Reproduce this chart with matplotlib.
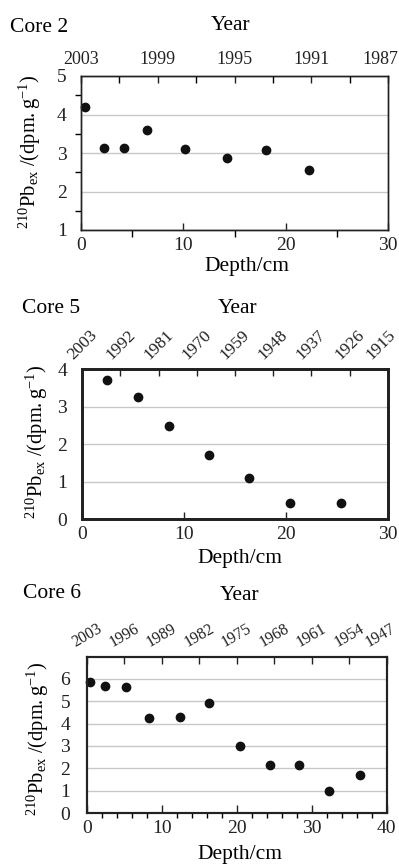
import matplotlib
matplotlib.use('Agg')
import numpy as np
import matplotlib.pyplot as plt
from matplotlib.ticker import MultipleLocator, FixedLocator
from matplotlib.transforms import ScaledTranslation

plt.rcParams['font.family'] = ['Liberation Serif', 'DejaVu Serif']
plt.rcParams['mathtext.fontset'] = 'custom'
plt.rcParams['mathtext.rm'] = 'Liberation Serif'
plt.rcParams['mathtext.it'] = 'Liberation Serif:italic'

# ---- data ----
core2_depth = [0.4, 2.3, 4.2, 6.5, 10.2, 14.3, 18.1, 22.3]
core2_pb = [4.19, 3.12, 3.12, 3.60, 3.10, 2.86, 3.07, 2.57]
core2_years = ['2003', '1999', '1995', '1991', '1987']

core5_depth = [2.4, 5.5, 8.5, 12.45, 16.4, 20.4, 25.45]
core5_pb = [3.72, 3.25, 2.50, 1.71, 1.11, 0.44, 0.44]
core5_years = ['2003', '1992', '1981', '1970', '1959', '1948', '1937', '1926', '1915']

core6_depth = [0.4, 2.4, 5.3, 8.3, 12.4, 16.3, 20.4, 24.4, 28.3, 32.3, 36.4]
core6_pb = [5.85, 5.67, 5.64, 4.24, 4.28, 4.90, 3.00, 2.13, 2.13, 0.98, 1.69]
core6_years = ['2003', '1996', '1989', '1982', '1975', '1968', '1961', '1954', '1947']

W, H = 399, 865
fig = plt.figure(figsize=(W / 100, H / 100), dpi=100)


def rect(l, t, r, b):
    return [l / W, 1 - b / H, (r - l) / W, (b - t) / H]


def ftxt(x, y, s, **kw):
    fig.text(x / W, 1 - y / H, s, **kw)


ylab = r'$^{210}\mathrm{Pb}_{\mathrm{ex}}\ /(\mathrm{dpm.g}^{-1})$'
GRID = '#c8c8c8'
INK = '#222222'


def panel(box, depth, pb, years, xmax, ylim, yticks, spine_w, top_rot, top_fs,
          core, core_xy, year_xy, ylab_xy, dep_xy, ypad, top_pad):
    ax = fig.add_axes(rect(*box))
    ax.scatter(depth, pb, s=36, color='#111111', zorder=3, clip_on=False)
    ax.set_xlim(0, xmax)
    ax.set_ylim(*ylim)
    ax.yaxis.set_major_locator(FixedLocator(yticks))
    ax.yaxis.grid(True, color=GRID, linewidth=1.0)
    ax.set_axisbelow(True)
    for sp in ax.spines.values():
        sp.set_linewidth(spine_w)
        sp.set_color(INK)
    ax.tick_params(axis='both', direction='in', labelsize=14, colors=INK)
    ax.tick_params(axis='y', pad=ypad)
    ax.tick_params(axis='x', pad=5)
    # top year axis
    at = ax.twiny()
    at.set_xlim(0, xmax)
    at.set_xticks(np.linspace(0, xmax, len(years)))
    at.set_xticklabels(years, rotation=top_rot, fontsize=top_fs)
    at.tick_params(axis='x', direction='in', length=5, width=1.0, pad=top_pad,
                   colors=INK)
    for sp in at.spines.values():
        sp.set_linewidth(spine_w)
        sp.set_color(INK)
    ftxt(core_xy[0], core_xy[1], core, fontsize=15.5, ha='left', va='baseline')
    ftxt(year_xy[0], year_xy[1], 'Year', fontsize=15.5, ha='center', va='baseline')
    ftxt(ylab_xy[0], ylab_xy[1], ylab, fontsize=14.8, rotation=90,
         ha='center', va='center')
    ftxt(dep_xy[0], dep_xy[1], 'Depth/cm', fontsize=15.5, ha='center',
         va='baseline')
    return ax, at


# Core 2
ax1, at1 = panel((80.7, 76, 388.3, 230), core2_depth, core2_pb, core2_years, 30,
                 (1, 5), [1, 2, 3, 4, 5], 1.0, 0, 13,
                 'Core 2', (10, 32.5), (231, 30), (30, 152), (247, 270.5), 10, 6)
ax1.xaxis.set_major_locator(MultipleLocator(10))
ax1.xaxis.set_minor_locator(MultipleLocator(5))
ax1.tick_params(axis='x', which='both', length=5, width=1.0, top=False)
ax1.yaxis.set_minor_locator(MultipleLocator(0.5))
ax1.tick_params(axis='y', which='major', length=0)
ax1.tick_params(axis='y', which='minor', length=4, width=1.0, right=False)
at1.xaxis.set_minor_locator(MultipleLocator(3.75))
at1.tick_params(axis='x', which='minor', direction='in', length=5, width=1.0)

# Core 5
ax2, at2 = panel((82.3, 369.3, 387.7, 519.3), core5_depth, core5_pb, core5_years, 30,
                 (0, 4), [0, 1, 2, 3, 4], 2.0, 45, 12.5,
                 'Core 5', (22, 312.5), (238, 312.5), (37, 442), (240, 562.5), 11, 5)
ax2.xaxis.set_major_locator(MultipleLocator(10))
ax2.tick_params(axis='x', length=5, width=1.0)
ax2.tick_params(axis='y', length=0)

# Core 6
ax3, at3 = panel((86.7, 657.3, 386.7, 813.3), core6_depth, core6_pb, core6_years, 40,
                 (0, 6.95), [0, 1, 2, 3, 4, 5, 6], 1.5, 30, 11.5,
                 'Core 6', (23, 598.5), (240, 600.5), (38, 739), (240, 859.5), 12, 5)
ax3.xaxis.set_major_locator(MultipleLocator(10))
ax3.xaxis.set_minor_locator(MultipleLocator(2))
ax3.tick_params(axis='x', which='major', length=6, width=1.0)
ax3.tick_params(axis='x', which='minor', length=3.5, width=1.0)
ax3.tick_params(axis='y', length=0)

# shift the last year label of each top axis left so it stays inside the figure
fig.canvas.draw()
for at, dx in ((at1, -7.5), (at2, -7.0), (at3, -6.0)):
    lab = at.get_xticklabels()[-1]
    lab.set_transform(lab.get_transform() + ScaledTranslation(dx / 100, 0, fig.dpi_scale_trans))

fig.savefig('out.png', dpi=100)
